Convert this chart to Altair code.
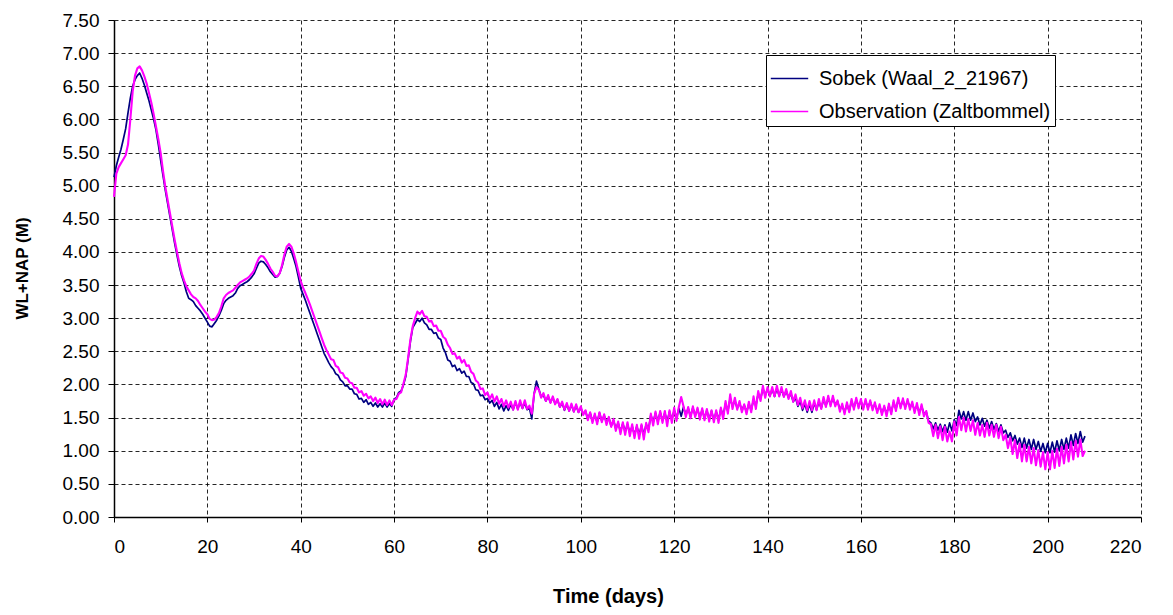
import altair as alt
import pandas as pd

# Water level (m + NAP), one value every half day from day 0 to day 208
sobek = [
    5.13, 5.30, 5.43, 5.55, 5.70, 5.86, 6.10, 6.32, 6.50, 6.60,
    6.66, 6.70, 6.62, 6.52, 6.40, 6.28, 6.14, 6.00, 5.84, 5.62,
    5.38, 5.15, 4.93, 4.73, 4.53, 4.33, 4.13, 3.95, 3.78, 3.64,
    3.53, 3.40, 3.30, 3.28, 3.25, 3.19, 3.15, 3.11, 3.06, 3.00,
    2.94, 2.88, 2.87, 2.92, 2.97, 3.04, 3.12, 3.22, 3.27, 3.30,
    3.32, 3.34, 3.38, 3.45, 3.49, 3.51, 3.53, 3.55, 3.58, 3.62,
    3.67, 3.75, 3.83, 3.86, 3.85, 3.81, 3.76, 3.70, 3.66, 3.62,
    3.63, 3.68, 3.78, 3.92, 4.03, 4.07, 4.01, 3.90, 3.78, 3.62,
    3.45, 3.36, 3.27, 3.17, 3.07, 2.97, 2.87, 2.77, 2.67, 2.57,
    2.47, 2.40, 2.33, 2.27, 2.23, 2.16, 2.14, 2.07, 2.04, 1.98,
    1.98, 1.93, 1.93, 1.86, 1.85, 1.78, 1.79, 1.73, 1.77, 1.70,
    1.73, 1.67, 1.72, 1.66, 1.71, 1.66, 1.72, 1.66, 1.71, 1.67,
    1.78, 1.80, 1.88, 1.90, 1.99, 2.12, 2.38, 2.65, 2.86, 2.92,
    2.98, 2.95, 3.00, 2.93, 2.90, 2.83, 2.83, 2.77, 2.78, 2.70,
    2.68, 2.55, 2.48, 2.37, 2.35, 2.27, 2.29, 2.21, 2.24, 2.17,
    2.20, 2.12, 2.12, 2.03, 2.01, 1.92, 1.91, 1.83, 1.84, 1.77,
    1.79, 1.72, 1.76, 1.67, 1.73, 1.63, 1.70, 1.60, 1.68, 1.61,
    1.70, 1.62, 1.73, 1.63, 1.73, 1.64, 1.72, 1.62, 1.64, 1.48,
    1.86, 2.05, 1.93, 1.82, 1.84, 1.75, 1.82, 1.73, 1.80, 1.71,
    1.77, 1.66, 1.72, 1.61, 1.70, 1.60, 1.69, 1.59, 1.68, 1.58,
    1.65, 1.55, 1.60, 1.48, 1.57, 1.45, 1.54, 1.43, 1.57, 1.45,
    1.53, 1.43, 1.50, 1.37, 1.46, 1.33, 1.42, 1.29, 1.41, 1.29,
    1.40, 1.27, 1.37, 1.24, 1.37, 1.24, 1.38, 1.24, 1.40, 1.32,
    1.54, 1.43, 1.57, 1.44, 1.58, 1.46, 1.57, 1.44, 1.59, 1.47,
    1.61, 1.49, 1.64, 1.52, 1.66, 1.54, 1.64, 1.52, 1.65, 1.53,
    1.63, 1.50, 1.62, 1.49, 1.61, 1.47, 1.60, 1.46, 1.59, 1.47,
    1.63, 1.53, 1.71, 1.60, 1.79, 1.67, 1.76, 1.64, 1.72, 1.61,
    1.69, 1.58, 1.71, 1.61, 1.77, 1.68, 1.86, 1.78, 1.94, 1.84,
    1.93, 1.83, 1.93, 1.82, 1.94, 1.83, 1.92, 1.82, 1.90, 1.80,
    1.86, 1.74, 1.80, 1.67, 1.75, 1.61, 1.71, 1.58, 1.70, 1.58,
    1.72, 1.62, 1.74, 1.64, 1.77, 1.68, 1.79, 1.70, 1.79, 1.70,
    1.74, 1.63, 1.68, 1.58, 1.70, 1.60, 1.75, 1.65, 1.77, 1.67,
    1.75, 1.65, 1.75, 1.65, 1.74, 1.64, 1.70, 1.60, 1.67, 1.57,
    1.66, 1.56, 1.68, 1.58, 1.73, 1.63, 1.77, 1.67, 1.76, 1.66,
    1.75, 1.66, 1.71, 1.61, 1.68, 1.58, 1.67, 1.56, 1.58, 1.45,
    1.42, 1.33, 1.42, 1.31, 1.40, 1.29, 1.39, 1.28, 1.42, 1.30,
    1.47, 1.38, 1.61, 1.48, 1.59, 1.46, 1.59, 1.46, 1.57, 1.44,
    1.51, 1.39, 1.49, 1.37, 1.46, 1.34, 1.44, 1.32, 1.41, 1.29,
    1.39, 1.27, 1.31, 1.20, 1.27, 1.15, 1.23, 1.10, 1.19, 1.05,
    1.19, 1.04, 1.17, 1.02, 1.17, 1.02, 1.14, 0.99, 1.11, 0.97,
    1.11, 0.97, 1.13, 0.98, 1.15, 1.00, 1.17, 1.02, 1.19, 1.04,
    1.24, 1.08, 1.26, 1.11, 1.29, 1.13, 1.22,
]

observation = [
    4.83, 5.18, 5.28, 5.34, 5.40, 5.46, 5.62, 6.00, 6.42, 6.66,
    6.77, 6.80, 6.74, 6.65, 6.54, 6.40, 6.25, 6.08, 5.89, 5.70,
    5.49, 5.22, 4.98, 4.78, 4.58, 4.38, 4.18, 4.00, 3.83, 3.68,
    3.57, 3.48, 3.42, 3.36, 3.32, 3.30, 3.26, 3.20, 3.15, 3.10,
    3.06, 2.99, 2.97, 2.98, 3.02, 3.08, 3.18, 3.30, 3.35, 3.38,
    3.40, 3.42, 3.46, 3.50, 3.54, 3.56, 3.58, 3.60, 3.63, 3.67,
    3.72, 3.82, 3.90, 3.94, 3.93, 3.88, 3.82, 3.75, 3.70, 3.64,
    3.63, 3.68, 3.80, 3.96, 4.08, 4.12, 4.08, 3.98, 3.85, 3.70,
    3.56, 3.46, 3.38, 3.29, 3.20, 3.10, 3.00, 2.90, 2.80, 2.70,
    2.60, 2.52, 2.45, 2.38, 2.37, 2.28, 2.26, 2.18, 2.17, 2.10,
    2.09, 2.03, 2.02, 1.95, 1.95, 1.88, 1.90, 1.83, 1.86, 1.79,
    1.82, 1.75, 1.80, 1.72, 1.78, 1.70, 1.77, 1.69, 1.76, 1.69,
    1.77, 1.78, 1.86, 1.88, 2.01, 2.15, 2.40, 2.68, 2.88, 3.00,
    3.10, 3.06, 3.11, 3.03, 3.02, 2.95, 2.96, 2.88, 2.89, 2.81,
    2.81, 2.72, 2.69, 2.60, 2.55, 2.46, 2.47, 2.39, 2.42, 2.33,
    2.37, 2.28, 2.29, 2.19, 2.16, 2.06, 2.03, 1.93, 1.94, 1.84,
    1.88, 1.78, 1.85, 1.74, 1.82, 1.71, 1.78, 1.67, 1.76, 1.65,
    1.74, 1.62, 1.75, 1.62, 1.76, 1.64, 1.76, 1.63, 1.68, 1.56,
    1.86, 1.96, 1.92, 1.80, 1.87, 1.75, 1.84, 1.72, 1.82, 1.70,
    1.78, 1.66, 1.74, 1.62, 1.72, 1.60, 1.71, 1.59, 1.70, 1.58,
    1.67, 1.54, 1.61, 1.46, 1.58, 1.42, 1.56, 1.40, 1.58, 1.43,
    1.55, 1.39, 1.51, 1.36, 1.48, 1.30, 1.44, 1.25, 1.43, 1.24,
    1.43, 1.22, 1.40, 1.19, 1.39, 1.18, 1.40, 1.17, 1.42, 1.28,
    1.56, 1.38, 1.59, 1.40, 1.60, 1.42, 1.60, 1.37, 1.61, 1.42,
    1.65, 1.45, 1.66, 1.81, 1.67, 1.51, 1.66, 1.49, 1.67, 1.51,
    1.65, 1.47, 1.64, 1.46, 1.63, 1.44, 1.61, 1.43, 1.61, 1.42,
    1.65, 1.48, 1.75, 1.56, 1.85, 1.63, 1.80, 1.62, 1.75, 1.58,
    1.70, 1.55, 1.74, 1.58, 1.82, 1.63, 1.90, 1.75, 1.98, 1.80,
    1.96, 1.82, 1.96, 1.82, 1.98, 1.82, 1.96, 1.81, 1.93, 1.78,
    1.90, 1.74, 1.85, 1.69, 1.80, 1.64, 1.76, 1.61, 1.75, 1.61,
    1.76, 1.61, 1.78, 1.63, 1.81, 1.66, 1.83, 1.67, 1.83, 1.67,
    1.76, 1.59, 1.71, 1.55, 1.73, 1.58, 1.78, 1.62, 1.80, 1.64,
    1.78, 1.62, 1.78, 1.62, 1.76, 1.61, 1.73, 1.57, 1.70, 1.54,
    1.68, 1.52, 1.71, 1.55, 1.76, 1.60, 1.80, 1.64, 1.79, 1.63,
    1.78, 1.62, 1.74, 1.57, 1.72, 1.54, 1.70, 1.52, 1.60, 1.42,
    1.40, 1.22, 1.39, 1.19, 1.37, 1.16, 1.36, 1.14, 1.29, 1.14,
    1.44, 1.23, 1.51, 1.31, 1.50, 1.29, 1.48, 1.30, 1.46, 1.24,
    1.42, 1.23, 1.39, 1.21, 1.42, 1.23, 1.39, 1.21, 1.39, 1.19,
    1.36, 1.16, 1.24, 1.04, 1.20, 0.95, 1.16, 0.89, 1.11, 0.84,
    1.09, 0.84, 1.06, 0.81, 1.04, 0.78, 1.01, 0.76, 0.98, 0.72,
    0.98, 0.72, 1.00, 0.74, 1.03, 0.77, 1.06, 0.81, 1.09, 0.84,
    1.13, 0.87, 1.15, 0.91, 1.17, 0.92, 1.00,
]

days = [i * 0.5 for i in range(len(sobek))]

series_names = ["Sobek (Waal_2_21967)", "Observation (Zaltbommel)"]
series_colors = ["#000080", "#FF00FF"]
x_ticks = [0, 20, 40, 60, 80, 100, 120, 140, 160, 180, 200, 220]
y_ticks = [0.0, 0.5, 1.0, 1.5, 2.0, 2.5, 3.0, 3.5, 4.0, 4.5, 5.0, 5.5,
           6.0, 6.5, 7.0, 7.5]

df_s = pd.DataFrame({"day": days, "wl": sobek, "series": series_names[0]})
df_o = pd.DataFrame({"day": days, "wl": observation, "series": series_names[1]})

FONT = "Liberation Sans"

x_enc = alt.X(
    "day:Q",
    scale=alt.Scale(domain=[0, 220], nice=False, zero=False),
    axis=alt.Axis(
        values=x_ticks, format="d", title="Time (days)",
        labelPadding=15, tickSize=5, titleX=494, titleY=79,
        titleBaseline="middle", titleFontSize=20,
    ),
)
y_enc = alt.Y(
    "wl:Q",
    scale=alt.Scale(domain=[0, 7.5], nice=False),
    axis=alt.Axis(
        values=y_ticks, format=".2f", title="WL+NAP (M)",
        labelPadding=9, tickSize=6, titleX=-92, titleY=248,
        titleBaseline="middle", titleAngle=270, titleFontSize=17,
    ),
)

color_enc = alt.Color(
    "series:N",
    scale=alt.Scale(domain=series_names, range=series_colors),
    legend=alt.Legend(
        title=None, orient="none", legendX=652, legendY=35,
        symbolType="stroke", symbolSize=1400, symbolStrokeWidth=1.5,
        labelFont=FONT, labelFontSize=20, labelColor="black",
        labelLimit=400, rowPadding=3, padding=4, labelOffset=10,
        strokeColor="black", fillColor="white",
    ),
)

line_s = alt.Chart(df_s).mark_line(strokeWidth=1.7, strokeJoin="round").encode(
    x=x_enc, y=y_enc, color=color_enc,
)
line_o = alt.Chart(df_o).mark_line(strokeWidth=2.1, strokeJoin="round").encode(
    x=x_enc, y=y_enc, color=color_enc,
)

chart = (
    alt.layer(line_s, line_o)
    .properties(
        width=1027, height=497, autosize="none",
        padding={"left": 106, "top": 12, "right": 24, "bottom": 90},
        background="white",
    )
    .configure_view(stroke=None)
    .configure_axis(
        grid=True, gridColor="black", gridDash=[4, 3], gridWidth=1, gridOpacity=0.85,
        domainColor="black", domainWidth=1.5, tickColor="black",
        labelFont=FONT, labelFontSize=19, labelColor="black",
        titleFont=FONT, titleFontWeight="bold", titleColor="black",
    )
)

chart.save("out.html", embed_options={"renderer": "svg", "actions": False})
